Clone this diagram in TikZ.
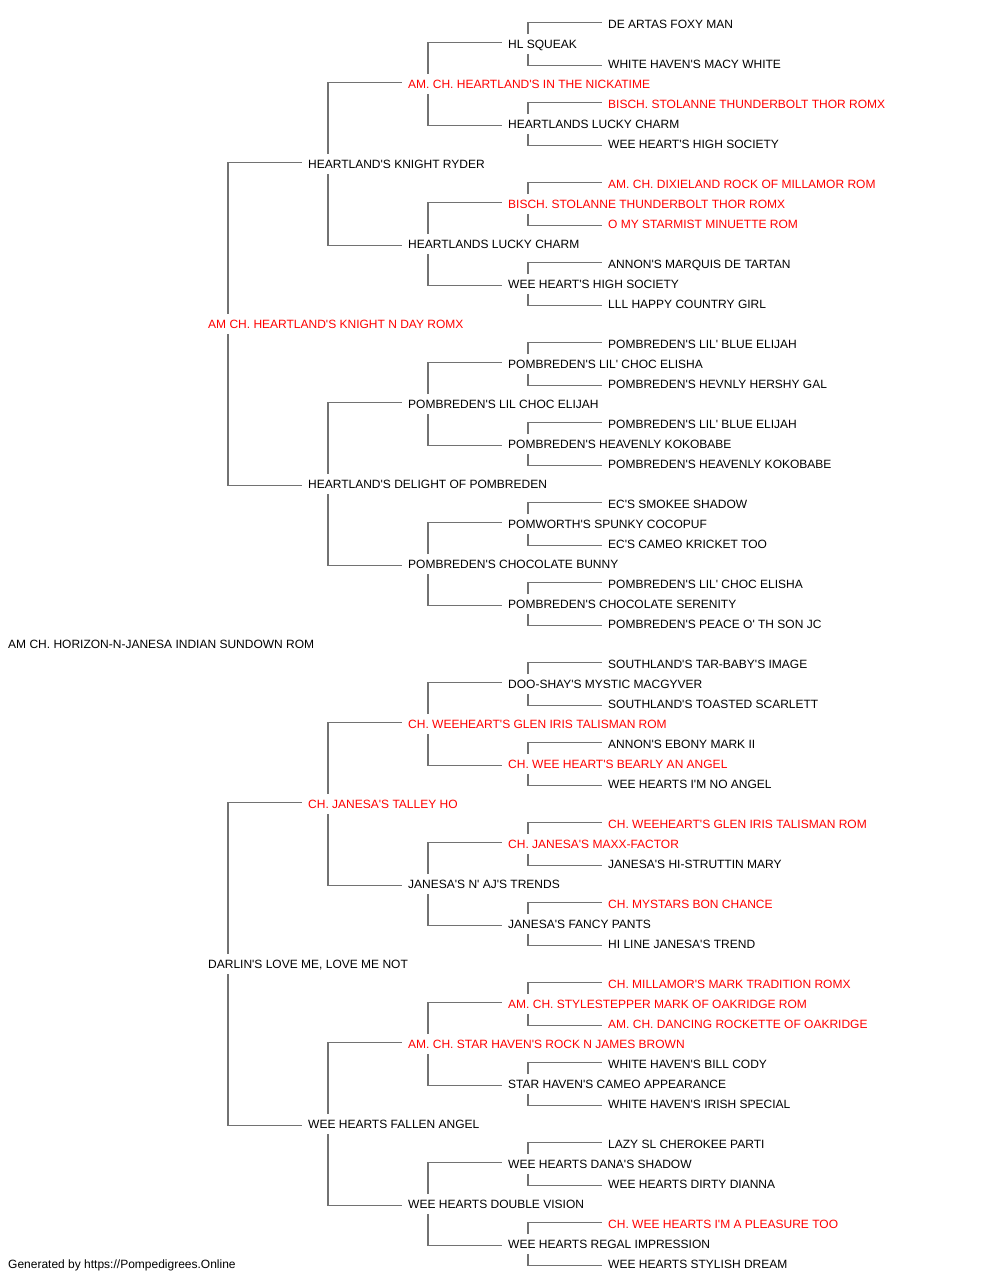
\documentclass[tikz,border=0pt]{standalone}
\usepackage{fontspec}
\setmainfont{Liberation Sans}[Ligatures=TeXOff]
\definecolor{champred}{HTML}{FF0000}
\definecolor{linkgray}{HTML}{727272}

\begin{document}
\begin{tikzpicture}[x=1pt,y=-1pt,
    dog/.style={anchor=west,inner xsep=5pt,inner ysep=5.5pt,text height=9pt,text depth=0pt,font=\fontsize{12}{14}\selectfont},
    champ/.style={dog,text=champred},
    link/.style={draw=linkgray,line width=1.9pt}]
      \useasboundingbox (0,0) rectangle (1000,1280);
      % generation 0
      \node [dog] (g) at (3,644) {AM CH. HORIZON-N-JANESA INDIAN SUNDOWN ROM};
      % generation 1
      \node [champ] (s) at (203,324) {AM CH. HEARTLAND'S KNIGHT N DAY ROMX};
      \node [dog] (d) at (203,964) {DARLIN'S LOVE ME, LOVE ME NOT};
      % generation 2
      \node [dog] (ss) at (303,164) {HEARTLAND'S KNIGHT RYDER};
      \node [dog] (sd) at (303,484) {HEARTLAND'S DELIGHT OF POMBREDEN};
      \node [champ] (ds) at (303,804) {CH. JANESA'S TALLEY HO};
      \node [dog] (dd) at (303,1124) {WEE HEARTS FALLEN ANGEL};
      % generation 3
      \node [champ] (sss) at (403,84) {AM. CH. HEARTLAND'S IN THE NICKATIME};
      \node [dog] (ssd) at (403,244) {HEARTLANDS LUCKY CHARM};
      \node [dog] (sds) at (403,404) {POMBREDEN'S LIL CHOC ELIJAH};
      \node [dog] (sdd) at (403,564) {POMBREDEN'S CHOCOLATE BUNNY};
      \node [champ] (dss) at (403,724) {CH. WEEHEART'S GLEN IRIS TALISMAN ROM};
      \node [dog] (dsd) at (403,884) {JANESA'S N' AJ'S TRENDS};
      \node [champ] (dds) at (403,1044) {AM. CH. STAR HAVEN'S ROCK N JAMES BROWN};
      \node [dog] (ddd) at (403,1204) {WEE HEARTS DOUBLE VISION};
      % generation 4
      \node [dog] (ssss) at (503,44) {HL SQUEAK};
      \node [dog] (sssd) at (503,124) {HEARTLANDS LUCKY CHARM};
      \node [champ] (ssds) at (503,204) {BISCH. STOLANNE THUNDERBOLT THOR ROMX};
      \node [dog] (ssdd) at (503,284) {WEE HEART'S HIGH SOCIETY};
      \node [dog] (sdss) at (503,364) {POMBREDEN'S LIL' CHOC ELISHA};
      \node [dog] (sdsd) at (503,444) {POMBREDEN'S HEAVENLY KOKOBABE};
      \node [dog] (sdds) at (503,524) {POMWORTH'S SPUNKY COCOPUF};
      \node [dog] (sddd) at (503,604) {POMBREDEN'S CHOCOLATE SERENITY};
      \node [dog] (dsss) at (503,684) {DOO-SHAY'S MYSTIC MACGYVER};
      \node [champ] (dssd) at (503,764) {CH. WEE HEART'S BEARLY AN ANGEL};
      \node [champ] (dsds) at (503,844) {CH. JANESA'S MAXX-FACTOR};
      \node [dog] (dsdd) at (503,924) {JANESA'S FANCY PANTS};
      \node [champ] (ddss) at (503,1004) {AM. CH. STYLESTEPPER MARK OF OAKRIDGE ROM};
      \node [dog] (ddsd) at (503,1084) {STAR HAVEN'S CAMEO APPEARANCE};
      \node [dog] (ddds) at (503,1164) {WEE HEARTS DANA'S SHADOW};
      \node [dog] (dddd) at (503,1244) {WEE HEARTS REGAL IMPRESSION};
      % generation 5
      \node [dog] (sssss) at (603,24) {DE ARTAS FOXY MAN};
      \node [dog] (ssssd) at (603,64) {WHITE HAVEN'S MACY WHITE};
      \node [champ] (sssds) at (603,104) {BISCH. STOLANNE THUNDERBOLT THOR ROMX};
      \node [dog] (sssdd) at (603,144) {WEE HEART'S HIGH SOCIETY};
      \node [champ] (ssdss) at (603,184) {AM. CH. DIXIELAND ROCK OF MILLAMOR ROM};
      \node [champ] (ssdsd) at (603,224) {O MY STARMIST MINUETTE ROM};
      \node [dog] (ssdds) at (603,264) {ANNON'S MARQUIS DE TARTAN};
      \node [dog] (ssddd) at (603,304) {LLL HAPPY COUNTRY GIRL};
      \node [dog] (sdsss) at (603,344) {POMBREDEN'S LIL' BLUE ELIJAH};
      \node [dog] (sdssd) at (603,384) {POMBREDEN'S HEVNLY HERSHY GAL};
      \node [dog] (sdsds) at (603,424) {POMBREDEN'S LIL' BLUE ELIJAH};
      \node [dog] (sdsdd) at (603,464) {POMBREDEN'S HEAVENLY KOKOBABE};
      \node [dog] (sddss) at (603,504) {EC'S SMOKEE SHADOW};
      \node [dog] (sddsd) at (603,544) {EC'S CAMEO KRICKET TOO};
      \node [dog] (sddds) at (603,584) {POMBREDEN'S LIL' CHOC ELISHA};
      \node [dog] (sdddd) at (603,624) {POMBREDEN'S PEACE O' TH SON JC};
      \node [dog] (dssss) at (603,664) {SOUTHLAND'S TAR-BABY'S IMAGE};
      \node [dog] (dsssd) at (603,704) {SOUTHLAND'S TOASTED SCARLETT};
      \node [dog] (dssds) at (603,744) {ANNON'S EBONY MARK II};
      \node [dog] (dssdd) at (603,784) {WEE HEARTS I'M NO ANGEL};
      \node [champ] (dsdss) at (603,824) {CH. WEEHEART'S GLEN IRIS TALISMAN ROM};
      \node [dog] (dsdsd) at (603,864) {JANESA'S HI-STRUTTIN MARY};
      \node [champ] (dsdds) at (603,904) {CH. MYSTARS BON CHANCE};
      \node [dog] (dsddd) at (603,944) {HI LINE JANESA'S TREND};
      \node [champ] (ddsss) at (603,984) {CH. MILLAMOR'S MARK TRADITION ROMX};
      \node [champ] (ddssd) at (603,1024) {AM. CH. DANCING ROCKETTE OF OAKRIDGE};
      \node [dog] (ddsds) at (603,1064) {WHITE HAVEN'S BILL CODY};
      \node [dog] (ddsdd) at (603,1104) {WHITE HAVEN'S IRISH SPECIAL};
      \node [dog] (dddss) at (603,1144) {LAZY SL CHEROKEE PARTI};
      \node [dog] (dddsd) at (603,1184) {WEE HEARTS DIRTY DIANNA};
      \node [champ] (dddds) at (603,1224) {CH. WEE HEARTS I'M A PLEASURE TOO};
      \node [dog] (ddddd) at (603,1264) {WEE HEARTS STYLISH DREAM};
      % footer
      \node [dog] (credit) at (3,1264) {Generated by https://Pompedigrees.Online};
      % sire and dam brackets
      \foreach \p in {s,d,ss,sd,ds,dd,sss,ssd,sds,sdd,dss,dsd,dds,ddd,
                      ssss,sssd,ssds,ssdd,sdss,sdsd,sdds,sddd,dsss,dssd,dsds,dsdd,ddss,ddsd,ddds,dddd} {
        \draw [link] ([xshift=25pt]\p.north west) |- ([yshift=1.5pt,xshift=-1pt]\p s.west);
        \draw [link] ([xshift=25pt]\p.south west) |- ([yshift=-1.5pt,xshift=-1pt]\p d.west);
      }
    \end{tikzpicture}
\end{document}
